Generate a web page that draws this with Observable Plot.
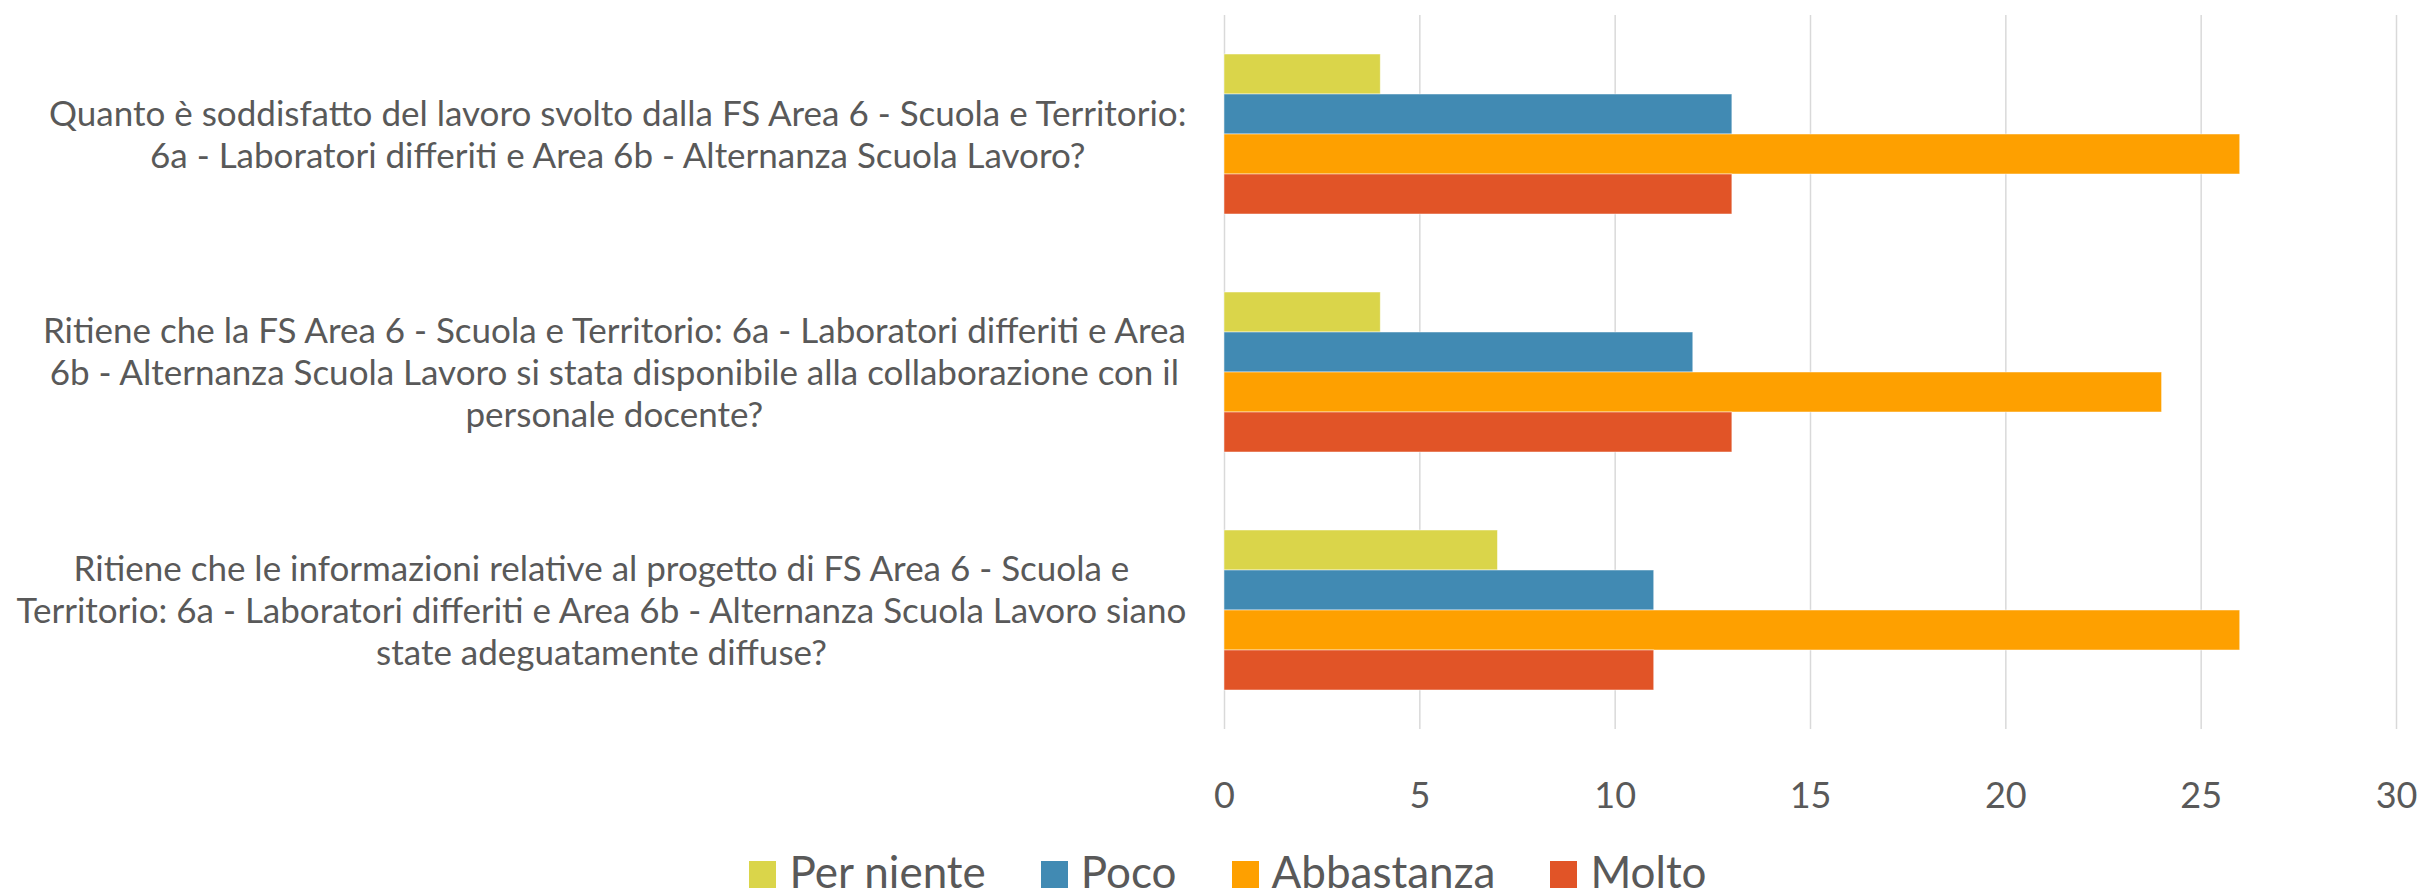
<!DOCTYPE html>
<html>
<head>
<meta charset="utf-8">
<script src="https://cdn.jsdelivr.net/npm/d3@7"></script>
<script src="https://cdn.jsdelivr.net/npm/@observablehq/plot@0.6"></script>
<style>
  html, body { margin: 0; padding: 0; background: #fff; overflow: hidden; }
  #chart { width: 2425px; }
  .legend { display: flex; justify-content: center; align-items: flex-start; height: 36px; margin-top: 3px; padding-left: 31px;
            font-family: Lato, sans-serif; font-size: 44px; color: #595959; }
  .legend .item { display: flex; align-items: flex-start; margin: 0 27.5px; }
  .legend .sw { width: 27px; height: 27px; margin-right: 13px; margin-top: 8px; }
  .legend span { line-height: 36px; height: 36px; display: block; }
</style>
</head>
<body>
<div id="chart"></div>
<script>
// ---- data ----
const questionLines = [
  ["Quanto è soddisfatto del lavoro svolto dalla FS Area 6 - Scuola e Territorio:",
   "6a - Laboratori differiti e Area 6b - Alternanza Scuola Lavoro?"],
  ["Ritiene che la FS Area 6 - Scuola e Territorio: 6a - Laboratori differiti e Area",
   "6b - Alternanza Scuola Lavoro si stata disponibile alla collaborazione con il",
   "personale docente?"],
  ["Ritiene che le informazioni relative al progetto di FS Area 6 - Scuola e",
   "Territorio: 6a - Laboratori differiti e Area 6b - Alternanza Scuola Lavoro siano",
   "state adeguatamente diffuse?"]
];
const questions = questionLines.map(l => l.join("\n"));
const series = ["Per niente", "Poco", "Abbastanza", "Molto"];
const perNiente  = [4, 4, 7];
const poco       = [13, 12, 11];
const abbastanza = [26, 24, 26];
const molto      = [13, 13, 11];
const xTicks = [0, 5, 10, 15, 20, 25, 30];
const colors = ["#DAD54A", "#418AB3", "#FEA000", "#E15427"];

const seriesValues = [perNiente, poco, abbastanza, molto];
const data = [];
questions.forEach((q, i) => {
  series.forEach((s, j) => data.push({question: q, series: s, value: seriesValues[j][i]}));
});

// ---- label measurement ----
const labelFont = 35;
const ctx = document.createElement("canvas").getContext("2d");
ctx.font = `${labelFont}px Lato`;
const labelRight = 1187, plotLeft = 1224;
const labelMarks = questions.map((q, i) => {
  const w = d3.max(questionLines[i], l => ctx.measureText(l).width);
  return Plot.text([q], {
    fy: d => d, text: d => d, frameAnchor: "left", textAnchor: "middle",
    dx: (labelRight - plotLeft) - w / 2, dy: -1, lineHeight: 1.2,
    fontSize: labelFont, fill: "#595959"
  });
});

const chart = Plot.plot({
  width: 2425,
  height: 850,
  marginLeft: plotLeft,
  marginRight: 29,
  marginTop: 14,
  marginBottom: 120,
  style: {fontFamily: "Lato, sans-serif", background: "#fff"},
  x: {domain: [0, 30], ticks: xTicks, label: null},
  fy: {domain: questions, padding: 0, axis: null, label: null},
  y: {domain: series, paddingInner: 0, paddingOuter: 0.911, axis: null, label: null},
  color: {domain: series, range: colors},
  marks: [
    Plot.gridX(xTicks, {stroke: "#d9d9d9", strokeOpacity: 1, strokeWidth: 1.5}),
    Plot.barX(data, {fy: "question", y: "series", x: "value", fill: "series",
                     stroke: "#fff", strokeWidth: 0.8, strokeOpacity: 0.6}),
    Plot.axisX({ticks: xTicks, tickSize: 0, tickPadding: 53, fontSize: 36, fill: "#595959", label: null}),
    ...labelMarks
  ]
});
document.getElementById("chart").appendChild(chart);

// ---- legend ----
const legend = document.createElement("div");
legend.className = "legend";
series.forEach((s, j) => {
  const item = document.createElement("div");
  item.className = "item";
  const sw = document.createElement("div");
  sw.className = "sw";
  sw.style.background = colors[j];
  const t = document.createElement("span");
  t.textContent = s;
  item.appendChild(sw); item.appendChild(t);
  legend.appendChild(item);
});
document.getElementById("chart").appendChild(legend);
</script>
</body>
</html>
